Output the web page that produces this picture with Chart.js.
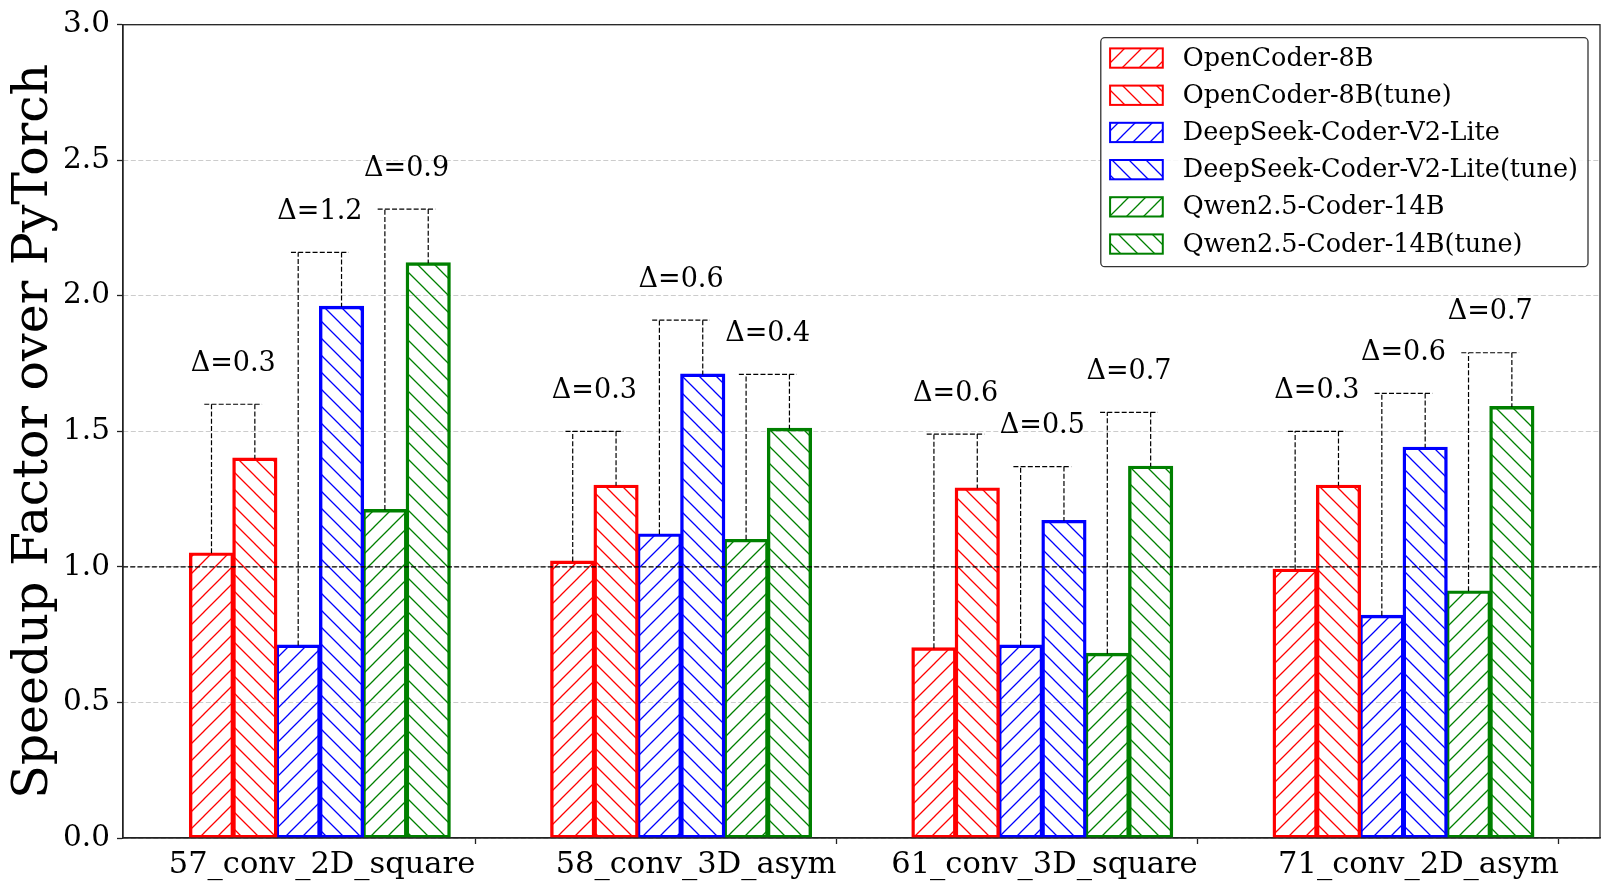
<!DOCTYPE html>
<html>
<head>
<meta charset="utf-8">
<script src="https://cdn.jsdelivr.net/npm/chart.js@4.4.1/dist/chart.umd.min.js"></script>
<style>
  html, body { margin: 0; padding: 0; background: #fff; }
  #wrap { width: 1611px; height: 889px; }
</style>
</head>
<body>
<div id="wrap"><canvas id="chart1"></canvas></div>
<script>
// kernels on the x axis
var groups = ['57_conv_2D_square', '58_conv_3D_asym', '61_conv_3D_square', '71_conv_2D_asym'];
var models = ['OpenCoder-8B', 'OpenCoder-8B(tune)', 'DeepSeek-Coder-V2-Lite',
              'DeepSeek-Coder-V2-Lite(tune)', 'Qwen2.5-Coder-14B', 'Qwen2.5-Coder-14B(tune)'];

// speedup values, one entry per kernel
var openCoder     = [1.05, 1.02, 0.70, 0.99];
var openCoderTune = [1.40, 1.30, 1.29, 1.30];
var deepSeek      = [0.71, 1.12, 0.71, 0.82];
var deepSeekTune  = [1.96, 1.71, 1.17, 1.44];
var qwen          = [1.21, 1.10, 0.68, 0.91];
var qwenTune      = [2.12, 1.51, 1.37, 1.59];

// delta labels above the brackets (per kernel: OpenCoder, DeepSeek, Qwen)
var deltaLabels = [
    ['0.3', '1.2', '0.9'],
    ['0.3', '0.6', '0.4'],
    ['0.6', '0.5', '0.7'],
    ['0.3', '0.6', '0.7']
];
var yTicks = [0, 0.5, 1.0, 1.5, 2.0, 2.5, 3.0];

var series = [openCoder, openCoderTune, deepSeek, deepSeekTune, qwen, qwenTune];
var colors = ['#ff0000', '#ff0000', '#0000ff', '#0000ff', '#008000', '#008000'];
var hatches = ['/', '\\', '/', '\\', '/', '\\'];
var barW = 0.12;
var tickShift = 0.43;

Chart.defaults.font.family = '"DejaVu Serif", serif';
Chart.defaults.color = '#000';

function makeHatch(color, dir) {
    var s = 17;
    var c = document.createElement('canvas');
    c.width = s; c.height = s;
    var g = c.getContext('2d');
    g.strokeStyle = color;
    g.lineWidth = 1.3;
    g.beginPath();
    if (dir == '/') {
        g.moveTo(-2, s + 2); g.lineTo(s + 2, -2);
        g.moveTo(-2, 2); g.lineTo(2, -2);
        g.moveTo(s - 2, s + 2); g.lineTo(s + 2, s - 2);
    } else {
        g.moveTo(-2, -2); g.lineTo(s + 2, s + 2);
        g.moveTo(-2, s - 2); g.lineTo(2, s + 2);
        g.moveTo(s - 2, -2); g.lineTo(s + 2, 2);
    }
    g.stroke();
    return g.createPattern(c, 'repeat');
}

var datasets = [];
for (var i = 0; i < series.length; i++) {
    var pts = [];
    for (var g = 0; g < groups.length; g++) {
        pts.push({ x: g + (i - 2.5) * barW, y: series[i][g] });
    }
    datasets.push({
        label: models[i],
        data: pts,
        backgroundColor: makeHatch(colors[i], hatches[i]),
        borderColor: colors[i],
        borderWidth: 1.6,
        inflateAmount: 0.9,
        borderSkipped: false,
        grouped: false,
        barPercentage: 1,
        categoryPercentage: 1
    });
}

var overlayPlugin = {
    id: 'overlay',
    afterDatasetsDraw: function(chart) {
        var ctx = chart.ctx, xs = chart.scales.x, ys = chart.scales.y, area = chart.chartArea;
        ctx.save();
        // reference line at speedup 1.0
        ctx.strokeStyle = '#000';
        ctx.lineWidth = 1.4;
        ctx.setLineDash([5, 2.2]);
        var y1 = ys.getPixelForValue(1);
        ctx.beginPath();
        ctx.moveTo(area.left, y1);
        ctx.lineTo(area.right, y1);
        ctx.stroke();

        // brackets + delta text
        ctx.lineWidth = 1.2;
        ctx.font = '27px "DejaVu Serif"';
        ctx.fillStyle = '#000';
        ctx.textAlign = 'center';
        ctx.textBaseline = 'alphabetic';
        for (var g = 0; g < groups.length; g++) {
            for (var p = 0; p < 3; p++) {
                var base = series[2 * p][g], tune = series[2 * p + 1][g];
                var top = Math.max(base, tune) + 0.2;
                var xb = xs.getPixelForValue(g + (2 * p - 2.5) * barW);
                var xt = xs.getPixelForValue(g + (2 * p - 1.5) * barW);
                var yTop = ys.getPixelForValue(top);
                ctx.beginPath();
                ctx.moveTo(xb, ys.getPixelForValue(base));
                ctx.lineTo(xb, yTop);
                ctx.stroke();
                ctx.beginPath();
                ctx.moveTo(xs.getPixelForValue(g + (2 * p - 2.5) * barW - 0.02), yTop);
                ctx.lineTo(xs.getPixelForValue(g + (2 * p - 1.5) * barW + 0.02), yTop);
                ctx.stroke();
                ctx.beginPath();
                ctx.moveTo(xt, yTop);
                ctx.lineTo(xt, ys.getPixelForValue(tune));
                ctx.stroke();
                ctx.fillText('\u0394=' + deltaLabels[g][p],
                    xs.getPixelForValue(g + (2 * p - 2) * barW),
                    ys.getPixelForValue(top + 0.1) - 6.4);
            }
        }
        ctx.restore();
    },
    afterDraw: function(chart) {
        var ctx = chart.ctx, area = chart.chartArea;
        ctx.save();
        // box around plot
        ctx.strokeStyle = '#222';
        ctx.lineWidth = 1.3;
        ctx.strokeRect(area.left, area.top, area.right - area.left, area.bottom - area.top);

        // legend box
        ctx.font = '25.5px "DejaVu Serif"';
        var maxW = 0;
        chart.data.datasets.forEach(function(d) {
            maxW = Math.max(maxW, ctx.measureText(d.label).width);
        });
        var w = 82 + maxW + 10, h = 229;
        var right = area.right - 12, top = area.top + 13;
        var left = right - w;
        ctx.beginPath();
        if (ctx.roundRect) ctx.roundRect(left, top, w, h, 4); else ctx.rect(left, top, w, h);
        ctx.fillStyle = 'rgba(255,255,255,0.85)';
        ctx.fill();
        ctx.strokeStyle = '#333';
        ctx.lineWidth = 1.3;
        ctx.stroke();
        ctx.textAlign = 'left';
        ctx.textBaseline = 'middle';
        chart.data.datasets.forEach(function(d, i) {
            var cy = top + 20.3 + i * 37.2;
            ctx.fillStyle = d.backgroundColor;
            ctx.fillRect(left + 9.3, cy - 9.6, 52.7, 19.3);
            ctx.strokeStyle = d.borderColor;
            ctx.lineWidth = 2;
            ctx.strokeRect(left + 9.3, cy - 9.6, 52.7, 19.3);
            ctx.fillStyle = '#000';
            ctx.fillText(d.label, left + 82, cy + 1);
        });
        ctx.restore();
    }
};

var ctx1 = document.getElementById('chart1').getContext('2d');
var chart1 = new Chart(ctx1, {
    type: 'bar',
    data: { datasets: datasets },
    plugins: [overlayPlugin],
    options: {
        responsive: true,
        maintainAspectRatio: false,
        animation: false,
        devicePixelRatio: 1,
        layout: { padding: { top: 22, right: 11, left: 0, bottom: 0 } },
        plugins: {
            legend: { display: false },
            tooltip: { enabled: false }
        },
        scales: {
            x: {
                type: 'linear',
                offset: false,
                bounds: 'data',
                min: -0.545,
                max: 3.544,
                afterBuildTicks: function(scale) {
                    scale.ticks = groups.map(function(n, i) { return { value: i + tickShift }; });
                },
                afterDataLimits: function(scale) {
                    scale.min = -0.545;
                    scale.max = 3.544;
                },
                afterFit: function(scale) { scale.height = 51; },
                ticks: {
                    autoSkip: false,
                    maxRotation: 0,
                    align: 'end',
                    padding: 3,
                    font: { size: 30.5 },
                    callback: function(v, i) { return groups[i]; }
                },
                grid: { offset: false, drawOnChartArea: false, drawTicks: true, tickLength: 6, tickColor: '#222', tickWidth: 1.3 },
                border: { color: '#222', width: 1.3 }
            },
            y: {
                min: 0,
                max: 3,
                afterBuildTicks: function(scale) {
                    scale.ticks = yTicks.map(function(v) { return { value: v }; });
                },
                afterFit: function(scale) { scale.width = 123; },
                ticks: {
                    padding: 7,
                    font: { size: 29.5 },
                    callback: function(v) { return Number(v).toFixed(1); }
                },
                grid: { color: '#cccccc', lineWidth: 1, tickLength: 6, tickColor: '#222', tickWidth: 1.3 },
                border: { color: '#222', width: 1.3, dash: [5, 2.5] },
                title: {
                    display: true,
                    text: 'Speedup Factor over PyTorch',
                    font: { size: 49 },
                    padding: { top: 5, bottom: 0 }
                }
            }
        }
    }
});
</script>
</body>
</html>
